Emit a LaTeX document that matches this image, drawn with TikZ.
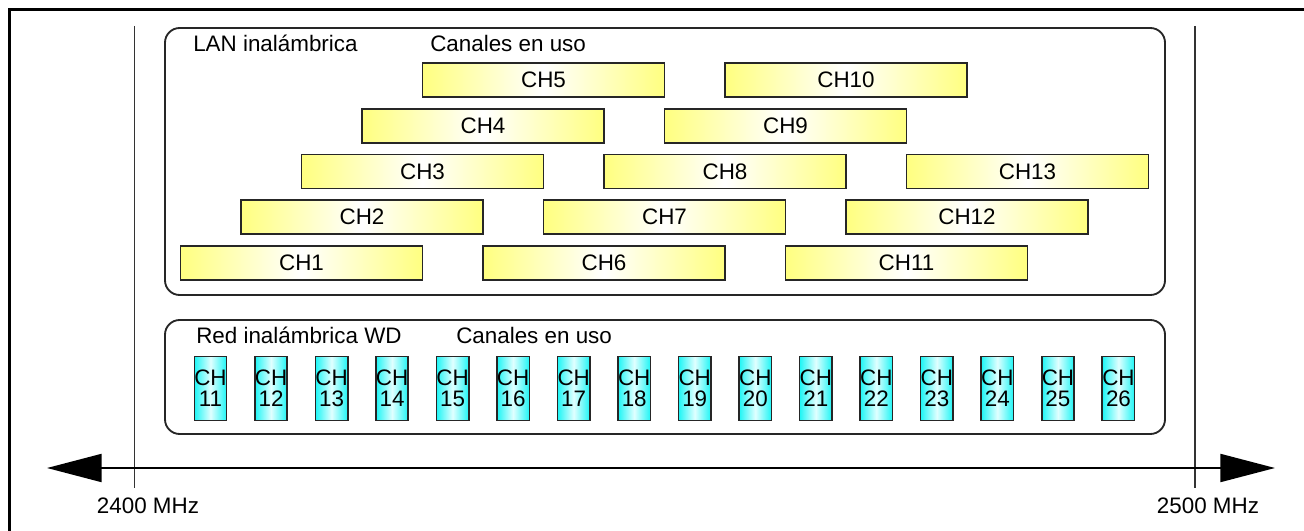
\documentclass[tikz,border=0pt]{standalone}
\usepackage{fontspec}
\setmainfont{Liberation Sans}
\usetikzlibrary{arrows.meta}
\definecolor{chyel}{RGB}{255,255,128}
\definecolor{chcyan}{RGB}{30,245,245}

\begin{document}
\begin{tikzpicture}[x=0.75pt,y=-0.75pt,font=\fontsize{16.8}{15.8}\selectfont,
  grp/.style={draw=black!85,line width=1.4pt,rounded corners=11pt},
  lanch/.style={draw=black!85,line width=1.2pt,left color=chyel,right color=chyel,middle color=white,
    minimum width=181.5pt,minimum height=25.5pt,inner sep=0pt},
  wdch/.style={draw=black!85,line width=1.2pt,left color=chcyan,right color=chcyan,middle color=cyan!12,
    minimum width=23.25pt,minimum height=48pt,inner sep=0pt,align=center}]
\useasboundingbox (0,0) rectangle (1304,531);
\draw[line width=2.3pt] (9.5,540) -- (9.5,9.5) -- (1310,9.5);
\draw[line width=0.8pt,black!80] (134.5,26) -- (134.5,488);
\draw[line width=0.8pt,black!80] (1195,26) -- (1195,488);
\draw[grp] (165,28) rectangle (1165,295);
\draw[grp] (165,320) rectangle (1165,434);
\node[anchor=base west,inner sep=0pt] (lan) at (193,52) {LAN inalámbrica};
\node[anchor=base west,inner sep=0pt] (lanuso) at (430,52) {Canales en uso};
\node[anchor=base west,inner sep=0pt] (wd) at (196,344) {Red inalámbrica WD};
\node[anchor=base west,inner sep=0pt] (wduso) at (456,344) {Canales en uso};
\foreach \n [evaluate=\n as \cx using 301.5+(\n-1)*60.5,
  evaluate=\n as \cy using {263-mod(\n-1,5)*45.75}] in {1,...,13}
  \node[lanch] (ch\n) at (\cx,\cy) {CH\n};
\foreach \n [evaluate=\n as \cx using 210.5+(\n-11)*60.53] in {11,...,26}
  \node[wdch] (wd\n) at (\cx,388.5) {CH\\\n};
\coordinate (flo) at (47,468); \coordinate (fhi) at (1275,468);
\draw[{Triangle[length=41pt,width=21pt]}-{Triangle[length=41pt,width=21pt]},line width=1.5pt] (flo) -- (fhi);
\node (f2400) at (148,506) {2400 MHz};
\node (f2500) at (1208,506) {2500 MHz};
\end{tikzpicture}
\end{document}
